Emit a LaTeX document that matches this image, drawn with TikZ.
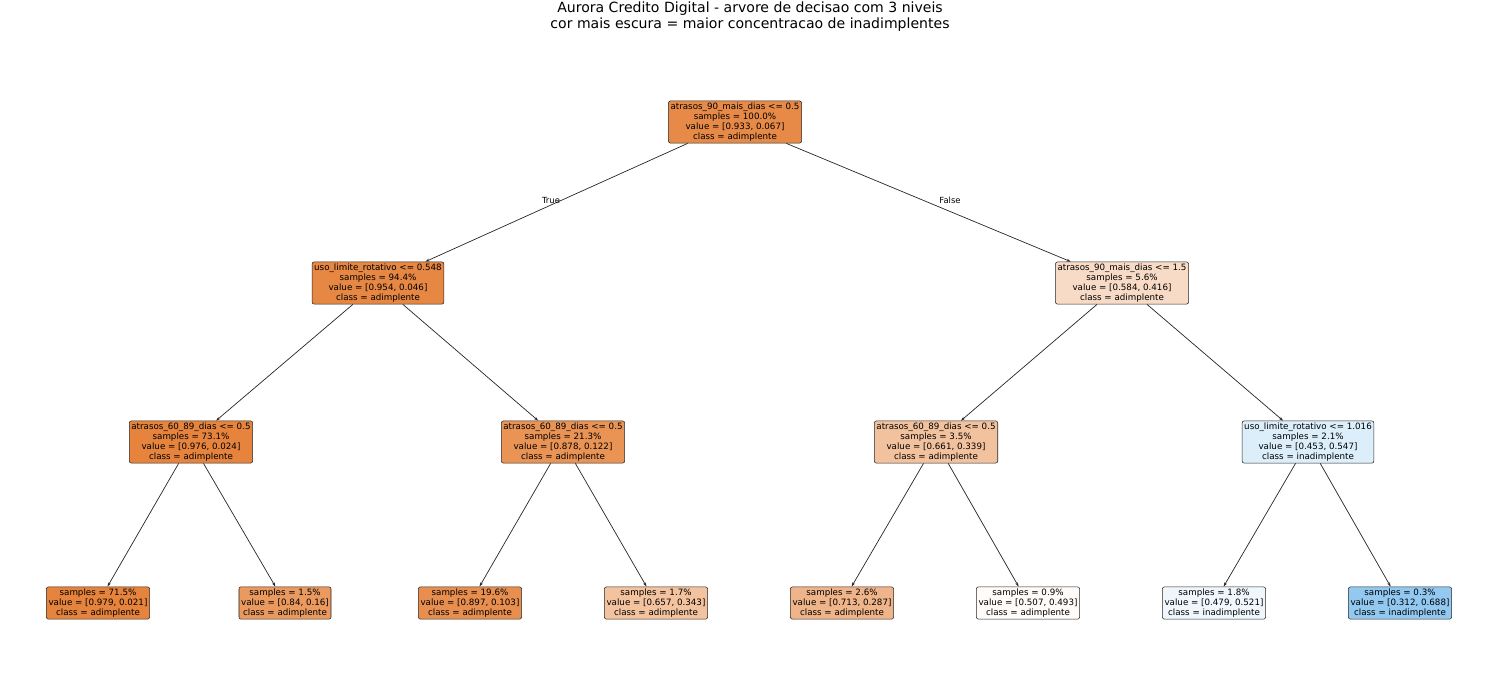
\documentclass[tikz,border=0pt]{standalone}
\usepackage{fontspec}
\setmainfont{DejaVu Sans}
\usetikzlibrary{arrows.meta}
\definecolor{adim}{RGB}{229,129,57}
\definecolor{inad}{RGB}{57,157,229}
\tikzset{
  leaf/.style={draw=black!85, rounded corners=1.5pt, align=center, inner sep=1.5pt,
    font=\fontsize{6.2}{7}\selectfont},
  edge/.style={-{Stealth[length=3pt,width=2pt]}, black!85, line width=0.5pt}
}
\begin{document}
\begin{tikzpicture}[x=0.25mm, y=-0.25mm]
\useasboundingbox (0,0) rectangle (1500,689);
\node[font=\fontsize{10}{11.5}\selectfont, align=center] (title) at (750,17)
  {Aurora Credito Digital - arvore de decisao com 3 niveis\\cor mais escura = maior concentracao de inadimplentes};
%
\node[leaf, fill=adim!92.8!white] (root) at (735,122) {atrasos\_90\_mais\_dias <= 0.5\\samples = 100.0\%\\value = [0.933, 0.067]\\class = adimplente};
\node[leaf, fill=adim!95.2!white] (l) at (378,283) {uso\_limite\_rotativo <= 0.548\\samples = 94.4\%\\value = [0.954, 0.046]\\class = adimplente};
\node[leaf, fill=adim!28.8!white] (r) at (1122,283) {atrasos\_90\_mais\_dias <= 1.5\\samples = 5.6\%\\value = [0.584, 0.416]\\class = adimplente};
%
\node[leaf, fill=adim!97.5!white] (ll) at (191,442) {atrasos\_60\_89\_dias <= 0.5\\samples = 73.1\%\\value = [0.976, 0.024]\\class = adimplente};
\node[leaf, fill=adim!86.1!white] (lr) at (563,442) {atrasos\_60\_89\_dias <= 0.5\\samples = 21.3\%\\value = [0.878, 0.122]\\class = adimplente};
\node[leaf, fill=adim!48.7!white] (rl) at (936,442) {atrasos\_60\_89\_dias <= 0.5\\samples = 3.5\%\\value = [0.661, 0.339]\\class = adimplente};
\node[leaf, fill=inad!17.2!white] (rr) at (1308,442) {uso\_limite\_rotativo <= 1.016\\samples = 2.1\%\\value = [0.453, 0.547]\\class = inadimplente};
%
\node[leaf, fill=adim!97.9!white] (lll) at (98,603) {samples = 71.5\%\\value = [0.979, 0.021]\\class = adimplente};
\node[leaf, fill=adim!81!white] (llr) at (285,603) {samples = 1.5\%\\value = [0.84, 0.16]\\class = adimplente};
\node[leaf, fill=adim!88.5!white] (lrl) at (470,603) {samples = 19.6\%\\value = [0.897, 0.103]\\class = adimplente};
\node[leaf, fill=adim!47.8!white] (lrr) at (656,603) {samples = 1.7\%\\value = [0.657, 0.343]\\class = adimplente};
\node[leaf, fill=adim!59.7!white] (rll) at (842,603) {samples = 2.6\%\\value = [0.713, 0.287]\\class = adimplente};
\node[leaf, fill=adim!2.8!white] (rlr) at (1028,603) {samples = 0.9\%\\value = [0.507, 0.493]\\class = adimplente};
\node[leaf, fill=inad!8.1!white] (rrl) at (1214,603) {samples = 1.8\%\\value = [0.479, 0.521]\\class = inadimplente};
\node[leaf, fill=inad!54.7!white] (rrr) at (1400,603) {samples = 0.3\%\\value = [0.312, 0.688]\\class = inadimplente};
%
\foreach \a/\b in {root/l, root/r, l/ll, l/lr, r/rl, r/rr, ll/lll, ll/llr, lr/lrl, lr/lrr, rl/rll, rl/rlr, rr/rrl, rr/rrr}
  \draw[edge] (\a) -- (\b);
\node[font=\fontsize{6}{7}\selectfont] (true) at (551,200) {True};
\node[font=\fontsize{6}{7}\selectfont] (false) at (950,200) {False};
\end{tikzpicture}
\end{document}
